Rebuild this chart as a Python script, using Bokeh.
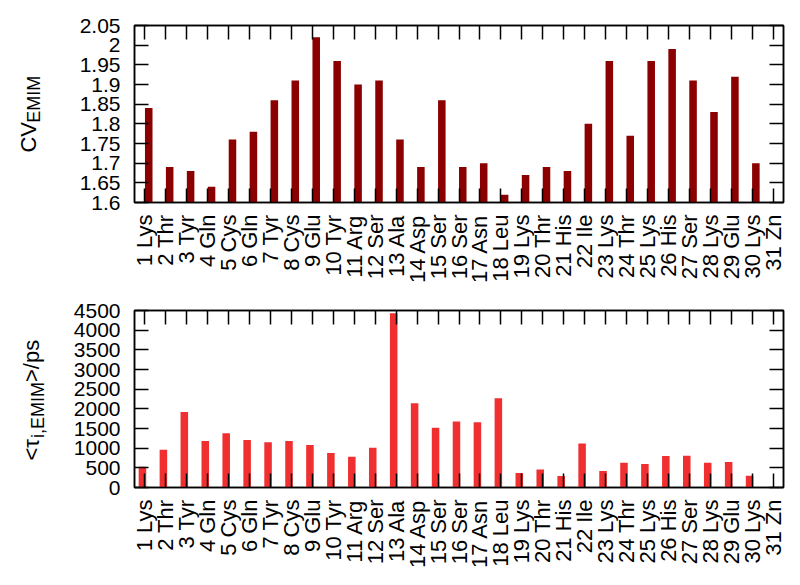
from math import pi
import numpy as np
from bokeh.plotting import figure
from bokeh.models import (Range1d, FixedTicker, LinearAxis, ColumnDataSource,
                          CustomJSTickFormatter)
from bokeh.core.properties import value
from bokeh.layouts import column, row
from bokeh.transform import dodge
from bokeh.embed import file_html
from bokeh.resources import INLINE

# ---------------- data ----------------
residues = ["1 Lys", "2 Thr", "3 Tyr", "4 Gln", "5 Cys", "6 Gln", "7 Tyr", "8 Cys",
            "9 Glu", "10 Tyr", "11 Arg", "12 Ser", "13 Ala", "14 Asp", "15 Ser",
            "16 Ser", "17 Asn", "18 Leu", "19 Lys", "20 Thr", "21 His", "22 Ile",
            "23 Lys", "24 Thr", "25 Lys", "26 His", "27 Ser", "28 Lys", "29 Glu",
            "30 Lys", "31 Zn"]
positions = list(range(1, 32))

cv_emim = [1.84, 1.69, 1.68, 1.64, 1.76, 1.78, 1.86, 1.91, 2.02, 1.96, 1.90, 1.91,
           1.76, 1.69, 1.86, 1.69, 1.70, 1.62, 1.67, 1.69, 1.68, 1.80, 1.96, 1.77,
           1.96, 1.99, 1.91, 1.83, 1.92, 1.70, float("nan")]

tau_emim = [530, 960, 1920, 1180, 1380, 1210, 1150, 1180, 1080, 880, 780, 1010,
            4430, 2140, 1520, 1680, 1660, 2270, 370, 460, 290, 1120, 420, 630,
            600, 800, 810, 630, 650, 300, float("nan")]

cv_ticks = [1.6, 1.65, 1.7, 1.75, 1.8, 1.85, 1.9, 1.95, 2.0, 2.05]
tau_ticks = [0, 500, 1000, 1500, 2000, 2500, 3000, 3500, 4000, 4500]

FONT = "Liberation Sans"
TICK_FS = "21px"
XLAB_FS = "22px"
TITLE_FS = "22px"
SUB_FS = "18px"

LAB_W = 60       # width of the side strip holding the y-axis titles
FRAME_W = 649
FRAME_H = 177
BOTTOM_B = 92


def make_fig(values, yticks, y0, y1, color, offset, border_top):
    src = ColumnDataSource(dict(pos=np.array(positions, dtype=float),
                                val=np.array(values, dtype=float)))
    p = figure(frame_width=FRAME_W, frame_height=FRAME_H,
               x_range=Range1d(0.5, 31.5), y_range=Range1d(y0, y1),
               output_backend="svg", toolbar_location=None,
               min_border_left=134 - LAB_W, min_border_right=9,
               min_border_top=border_top, min_border_bottom=BOTTOM_B)
    p.background_fill_color = "white"
    p.border_fill_color = "white"
    p.xgrid.visible = False
    p.ygrid.visible = False
    p.outline_line_color = "black"
    p.outline_line_width = 1.5

    p.vbar(x=dodge("pos", offset), width=0.36, bottom=y0, top="val", source=src,
           fill_color=color, line_color=None)

    xa = p.xaxis[0]
    xa.ticker = FixedTicker(ticks=positions)
    xa.major_label_overrides = {pos: name for pos, name in zip(positions, residues)}
    xa.major_label_orientation = pi / 2
    xa.major_label_standoff = 12
    xa.major_label_text_font_size = XLAB_FS
    ya = p.yaxis[0]
    ya.ticker = FixedTicker(ticks=yticks)
    ya.formatter = CustomJSTickFormatter(code="return String(Number(tick.toFixed(2)));")
    ya.major_label_standoff = 14
    ya.major_label_text_font_size = TICK_FS

    for ax in (xa, ya):
        ax.major_tick_in = 14
        ax.major_tick_out = 0
        ax.minor_tick_in = 0
        ax.minor_tick_out = 0
        ax.major_tick_line_width = 1.5
        ax.axis_line_width = 1.5
        ax.major_label_text_font = FONT
        ax.major_label_text_color = "black"

    blank = CustomJSTickFormatter(code="return '';")
    top = LinearAxis(ticker=FixedTicker(ticks=positions), formatter=blank,
                     major_label_text_font_size="0px", major_label_standoff=0)
    right = LinearAxis(ticker=FixedTicker(ticks=yticks), formatter=blank,
                       major_label_text_font_size="0px", major_label_standoff=0)
    for ax in (top, right):
        ax.major_tick_in = 14
        ax.major_tick_out = 0
        ax.minor_tick_in = 0
        ax.minor_tick_out = 0
        ax.major_tick_line_width = 1.5
        ax.axis_line_width = 1.5
    p.add_layout(top, "above")
    p.add_layout(right, "right")
    return p


def make_title_strip(main, border_top):
    s = figure(frame_width=LAB_W, frame_height=FRAME_H,
               x_range=Range1d(0, LAB_W), y_range=main.y_range,
               x_axis_type=None, y_axis_type=None,
               output_backend="svg", toolbar_location=None,
               min_border_left=0, min_border_right=0,
               min_border_top=border_top, min_border_bottom=BOTTOM_B)
    s.outline_line_color = None
    s.xgrid.visible = False
    s.ygrid.visible = False
    s.background_fill_color = "white"
    s.border_fill_color = "white"
    return s


# ---------------- top: CV_EMIM ----------------
p1 = make_fig(cv_emim, cv_ticks, 1.6, 2.05, "#8b0000", 0.18, 25)
t1 = make_title_strip(p1, 25)
t1.text(x=[28], y=[1.727], text=["CV"], angle=pi / 2,
        text_font=value(FONT), text_font_size=TITLE_FS, text_color="black",
        text_align="left", text_baseline="alphabetic")
t1.text(x=[33], y=[1.803], text=["EMIM"], angle=pi / 2,
        text_font=value(FONT), text_font_size=SUB_FS, text_color="black",
        text_align="left", text_baseline="alphabetic")

# ---------------- bottom: <tau_i,EMIM>/ps ----------------
p2 = make_fig(tau_emim, tau_ticks, 0, 4500, "#f03030", -0.12, 16)
t2 = make_title_strip(p2, 16)
t2.text(x=[31], y=[686], text=["<τ"], angle=pi / 2,
        text_font=value(FONT), text_font_size=TITLE_FS, text_color="black",
        text_align="left", text_baseline="alphabetic")
t2.text(x=[37], y=[1258], text=["i,EMIM"], angle=pi / 2,
        text_font=value(FONT), text_font_size=SUB_FS, text_color="black",
        text_align="left", text_baseline="alphabetic")
t2.text(x=[31], y=[2682], text=[">/ps"], angle=pi / 2,
        text_font=value(FONT), text_font_size=TITLE_FS, text_color="black",
        text_align="left", text_baseline="alphabetic")

layout = column(row(t1, p1), row(t2, p2))
open("out.html", "w").write(file_html(layout, INLINE))
